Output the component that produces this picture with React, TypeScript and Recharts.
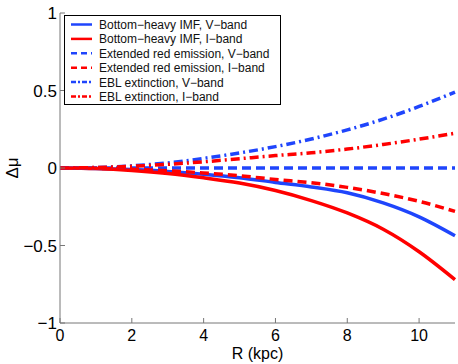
import { LineChart, Line, XAxis, YAxis, Legend } from "recharts";

const radius = [0, 1, 2, 3, 4, 5, 6, 7, 8, 9, 10, 11];
const bottomV = [0, -0.003, -0.01, -0.022, -0.04, -0.063, -0.093, -0.122, -0.16, -0.225, -0.315, -0.437];
const bottomI = [0, -0.004, -0.016, -0.035, -0.063, -0.097, -0.145, -0.21, -0.29, -0.395, -0.54, -0.72];
const extV = [0, 0, 0, 0, 0, 0, 0, 0, 0, 0, 0, 0];
const extI = [0, -0.002, -0.008, -0.018, -0.032, -0.05, -0.074, -0.095, -0.125, -0.165, -0.215, -0.28];
const eblV = [0, 0.003, 0.014, 0.033, 0.062, 0.097, 0.138, 0.187, 0.246, 0.315, 0.397, 0.49];
const eblI = [0, 0.003, 0.011, 0.024, 0.04, 0.06, 0.08, 0.098, 0.122, 0.152, 0.186, 0.224];

const xTicks = [0, 2, 4, 6, 8, 10];
const yTicks = [-1, -0.5, 0, 0.5, 1];

const BLUE = "#1f45fc";
const RED = "#ff0000";
const FONT = "'Liberation Sans', Arial, Helvetica, sans-serif";

const data = radius.map((r, i) => ({
  r,
  bottomV: bottomV[i],
  bottomI: bottomI[i],
  extV: extV[i],
  extI: extI[i],
  eblV: eblV[i],
  eblI: eblI[i],
}));

const series = [
  { key: "bottomV", name: "Bottom\u2212heavy IMF, V\u2212band", color: BLUE, dash: undefined, legendDash: undefined },
  { key: "bottomI", name: "Bottom\u2212heavy IMF, I\u2212band", color: RED, dash: undefined, legendDash: undefined },
  { key: "extV", name: "Extended red emission, V\u2212band", color: BLUE, dash: "9 5", legendDash: "6 4" },
  { key: "extI", name: "Extended red emission, I\u2212band", color: RED, dash: "9 5", legendDash: "6 4" },
  { key: "eblV", name: "EBL extinction, V\u2212band", color: BLUE, dash: "9 4 2 4", legendDash: "5 2 2 2" },
  { key: "eblI", name: "EBL extinction, I\u2212band", color: RED, dash: "9 4 2 4", legendDash: "5 2 2 2" },
];

const fmt = (v: number) => (v < 0 ? "\u2212" + String(-v) : String(v));

const BottomTick = ({ x, y, payload }: any) => (
  <g>
    <line x1={x} y1={y} x2={x} y2={y - 5} stroke="#777" />
    <text x={x} y={y + 18} textAnchor="middle" fontSize={16} fontFamily={FONT} fill="#000">
      {fmt(payload.value)}
    </text>
  </g>
);

const LeftTick = ({ x, y, payload }: any) => (
  <g>
    <line x1={x} y1={y} x2={x + 5} y2={y} stroke="#777" />
    <text x={x - 3} y={y + 6} textAnchor="end" fontSize={17} fontFamily={FONT} fill="#000">
      {fmt(payload.value)}
    </text>
  </g>
);

const TopTick = ({ x, y }: any) => <line x1={x} y1={y} x2={x} y2={y + 5} stroke="#777" />;
const RightTick = ({ x, y }: any) => <line x1={x} y1={y} x2={x - 5} y2={y} stroke="#777" />;

const LegendBox = () => (
  <svg width={217} height={90} style={{ display: "block" }}>
    <rect x={0.5} y={0.5} width={216} height={89} fill="#fff" stroke="#000" />
    {series.map((s, i) => {
      const cy = 9.5 + i * 14.4;
      return (
        <g key={s.key}>
          <line x1={7} y1={cy} x2={28} y2={cy} stroke={s.color} strokeWidth={2.5} strokeDasharray={s.legendDash} />
          <text x={35} y={cy + 4.5} fontSize={12} fontFamily={FONT} fill="#111">
            {s.name}
          </text>
        </g>
      );
    })}
  </svg>
);

export default function App() {
  return (
    <div style={{ position: "absolute", left: 0, top: 0, width: 458, height: 364, background: "#fff" }}>
      <LineChart width={458} height={364} data={data} margin={{ top: 13, right: 3, bottom: 0, left: 0 }}>
        <XAxis
          dataKey="r"
          type="number"
          domain={[0, 11]}
          ticks={xTicks}
          height={41}
          tickSize={0}
          tickMargin={0}
          tickLine={false}
          tick={<BottomTick />}
          stroke="#777"
          label={{ value: "R (kpc)", position: "insideBottom", offset: 5, fontSize: 16, fill: "#000", fontFamily: FONT }}
        />
        <XAxis
          xAxisId="top"
          orientation="top"
          dataKey="r"
          type="number"
          domain={[0, 11]}
          ticks={xTicks}
          height={0}
          tickSize={0}
          tickMargin={0}
          tickLine={false}
          tick={<TopTick />}
          stroke="#222"
        />
        <YAxis
          type="number"
          domain={[-1, 1]}
          ticks={yTicks}
          width={60}
          tickSize={0}
          tickMargin={0}
          tickLine={false}
          tick={<LeftTick />}
          stroke="#777"
          label={{ value: "\u0394\u03bc", angle: -90, position: "insideLeft", offset: 12, fontSize: 17, fill: "#000", fontFamily: FONT, style: { textAnchor: "middle" } }}
        />
        <YAxis
          yAxisId="right"
          orientation="right"
          type="number"
          domain={[-1, 1]}
          ticks={yTicks}
          width={0}
          tickSize={0}
          tickMargin={0}
          tickLine={false}
          tick={<RightTick />}
          stroke="#222"
        />
        {series.map((s) => (
          <Line
            key={s.key}
            type="monotone"
            dataKey={s.key}
            name={s.name}
            stroke={s.color}
            strokeWidth={3.5}
            strokeDasharray={s.dash}
            dot={false}
            isAnimationActive={false}
          />
        ))}
        <Legend
          layout="vertical"
          align="center"
          verticalAlign="middle"
          content={<LegendBox />}
          wrapperStyle={{ top: 15, left: 64, width: 217, height: 90, bottom: "auto", right: "auto" }}
        />
      </LineChart>
    </div>
  );
}
